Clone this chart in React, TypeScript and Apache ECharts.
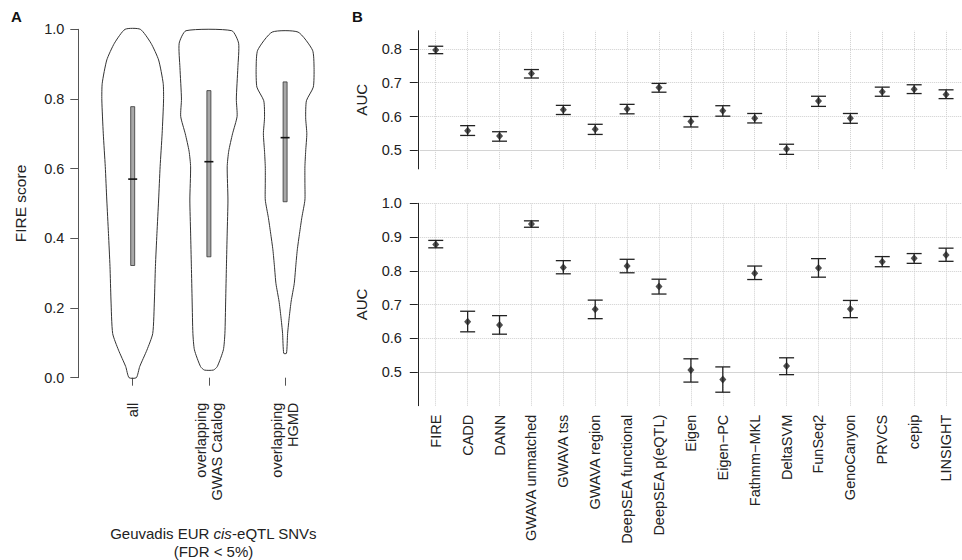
import React, { useEffect, useRef } from "react";
import * as echarts from "echarts";

// ---------- Panel A: FIRE score violins ----------
const violinGroups = ["all", "overlapping\nGWAS Catalog", "overlapping\nHGMD"];
const fireTicks = [0, 0.2, 0.4, 0.6, 0.8, 1.0];

// half-widths are expressed as a fraction of the category band
const violinAllLevels = [0, 0.032, 0.079, 0.127, 0.223, 0.319, 0.414, 0.51, 0.606, 0.7, 0.797, 0.845, 0.912, 0.96, 1.0];
const violinAllWidths = [0.048, 0.092, 0.186, 0.263, 0.285, 0.298, 0.318, 0.34, 0.36, 0.386, 0.405, 0.4, 0.34, 0.24, 0.1];

const violinGwasLevels = [0.022, 0.032, 0.08, 0.127, 0.22, 0.32, 0.415, 0.51, 0.605, 0.65, 0.7, 0.75, 0.8, 0.89, 0.96, 0.996];
const violinGwasWidths = [0.06, 0.11, 0.19, 0.21, 0.22, 0.23, 0.24, 0.25, 0.24, 0.26, 0.31, 0.37, 0.36, 0.38, 0.39, 0.3];

const violinHgmdLevels = [0.07, 0.127, 0.175, 0.22, 0.27, 0.32, 0.367, 0.415, 0.46, 0.51, 0.557, 0.605, 0.65, 0.7, 0.746, 0.795, 0.834, 0.89, 0.94, 0.992];
const violinHgmdWidths = [0.018, 0.033, 0.055, 0.08, 0.12, 0.14, 0.16, 0.19, 0.22, 0.26, 0.26, 0.26, 0.27, 0.285, 0.27, 0.28, 0.37, 0.38, 0.36, 0.17];

const boxLower = [0.322, 0.347, 0.505];
const boxUpper = [0.778, 0.824, 0.849];
const boxMedian = [0.57, 0.62, 0.689];

// ---------- Panel B: AUC per method ----------
const methods = [
  "FIRE", "CADD", "DANN", "GWAVA unmatched", "GWAVA tss", "GWAVA region",
  "DeepSEA functional", "DeepSEA p(eQTL)", "Eigen", "Eigen\u2212PC", "Fathmm\u2212MKL",
  "DeltaSVM", "FunSeq2", "GenoCanyon", "PRVCS", "cepip", "LINSIGHT",
];

const aucTop = [0.797, 0.558, 0.542, 0.727, 0.62, 0.562, 0.622, 0.686, 0.585, 0.617, 0.595, 0.504, 0.646, 0.595, 0.673, 0.681, 0.665];
const lowTop = [0.786, 0.544, 0.527, 0.714, 0.606, 0.547, 0.608, 0.672, 0.569, 0.601, 0.581, 0.488, 0.63, 0.58, 0.66, 0.668, 0.653];
const highTop = [0.808, 0.573, 0.555, 0.739, 0.633, 0.577, 0.636, 0.698, 0.6, 0.632, 0.609, 0.518, 0.66, 0.609, 0.687, 0.694, 0.679];
const ticksTop = [0.5, 0.6, 0.7, 0.8];

const aucBottom = [0.878, 0.649, 0.639, 0.939, 0.81, 0.686, 0.814, 0.753, 0.506, 0.478, 0.793, 0.518, 0.808, 0.687, 0.827, 0.837, 0.847];
const lowBottom = [0.868, 0.619, 0.612, 0.929, 0.791, 0.658, 0.794, 0.731, 0.47, 0.44, 0.774, 0.492, 0.781, 0.661, 0.812, 0.822, 0.828];
const highBottom = [0.89, 0.68, 0.667, 0.948, 0.83, 0.713, 0.834, 0.775, 0.539, 0.515, 0.814, 0.542, 0.836, 0.712, 0.842, 0.851, 0.867];
const ticksBottom = [0.5, 0.6, 0.7, 0.8, 0.9, 1.0];

const baseline = 0.5;

export default function App() {
  const ref = useRef<HTMLDivElement>(null);

  useEffect(() => {
    if (!ref.current) return;
    const chart = echarts.init(ref.current, undefined, { renderer: "svg" });
    const font = "'Liberation Sans', Arial, Helvetica, sans-serif";
    const ink = "#222";
    const gridGray = "#cfcfcf";

    const violins = [
      { levels: violinAllLevels, widths: violinAllWidths },
      { levels: violinGwasLevels, widths: violinGwasWidths },
      { levels: violinHgmdLevels, widths: violinHgmdWidths },
    ];

    const violinRender = (params: any, api: any) => {
      const i = api.value(0);
      const v = violins[i];
      const bw = api.size([1, 0])[0];
      const left = v.levels.map((y: number, k: number) => {
        const p = api.coord([i, y]);
        return [p[0] - v.widths[k] * bw, p[1]];
      });
      const right = v.levels
        .map((y: number, k: number) => {
          const p = api.coord([i, y]);
          return [p[0] + v.widths[k] * bw, p[1]];
        })
        .reverse();
      const lo = api.coord([i, boxLower[i]]);
      const hi = api.coord([i, boxUpper[i]]);
      const md = api.coord([i, boxMedian[i]]);
      return {
        type: "group",
        children: [
          {
            type: "polygon",
            shape: { points: left.concat(right), smooth: 0.2 },
            style: { fill: "none", stroke: "#333", lineWidth: 1 },
          },
          {
            type: "rect",
            shape: { x: lo[0] - 2, y: hi[1], width: 4, height: lo[1] - hi[1] },
            style: { fill: "#a8a8a8", stroke: "#333", lineWidth: 0.8 },
          },
          {
            type: "line",
            shape: { x1: md[0] - 4.5, y1: md[1], x2: md[0] + 4.5, y2: md[1] },
            style: { stroke: "#111", lineWidth: 1.6 },
          },
        ],
      };
    };

    const errRender = (params: any, api: any) => {
      const i = api.value(0);
      const lo = api.coord([i, api.value(1)]);
      const hi = api.coord([i, api.value(2)]);
      const half = 7.5;
      const st = { stroke: ink, lineWidth: 1.3 };
      return {
        type: "group",
        children: [
          { type: "line", shape: { x1: lo[0], y1: lo[1], x2: hi[0], y2: hi[1] }, style: st },
          { type: "line", shape: { x1: lo[0] - half, y1: lo[1], x2: lo[0] + half, y2: lo[1] }, style: st },
          { type: "line", shape: { x1: hi[0] - half, y1: hi[1], x2: hi[0] + half, y2: hi[1] }, style: st },
        ],
      };
    };

    const dotted = { color: gridGray, type: "dotted", width: 1 };
    const solid = { color: "#d4d4d4", type: "solid", width: 1 };
    const gridLines = (ticks: number[]) => ({
      silent: true,
      symbol: "none",
      z: 1,
      animation: false,
      label: { show: false },
      emphasis: { disabled: true },
      data: [
        ...ticks.filter((t) => t !== baseline).map((t) => ({ yAxis: t, lineStyle: dotted })),
        { yAxis: baseline, lineStyle: solid },
        ...methods.map((m) => ({ xAxis: m, lineStyle: dotted })),
      ],
    });

    const labelStyle = { color: ink, fontSize: 14.5, fontFamily: font };

    const option: any = {
      animation: false,
      textStyle: { fontFamily: font },
      grid: [
        { left: 94.6, top: 29.3, width: 228.6, height: 348.4 },
        { left: 419.8, top: 30.7, width: 549.7, height: 138.2 },
        { left: 419.8, top: 203.3, width: 549.7, height: 202.4 },
      ],
      xAxis: [
        {
          type: "category",
          gridIndex: 0,
          data: violinGroups,
          offset: 10,
          axisLine: { show: false },
          axisTick: { show: true, alignWithLabel: true, length: 8, lineStyle: { color: "#555" } },
          axisLabel: { ...labelStyle, interval: 0, rotate: 90, margin: 15, lineHeight: 16 },
          splitLine: { show: false },
        },
        {
          type: "category",
          gridIndex: 1,
          data: methods,
          axisLine: { show: false },
          axisTick: { show: false },
          axisLabel: { show: false },
          splitLine: { show: false },
        },
        {
          type: "category",
          gridIndex: 2,
          data: methods,
          axisLine: { show: false },
          axisTick: { show: false },
          axisLabel: { ...labelStyle, interval: 0, rotate: 90, margin: 9 },
          splitLine: { show: false },
        },
      ],
      yAxis: [
        {
          type: "value",
          gridIndex: 0,
          min: 0,
          max: 1,
          interval: 0.2,
          offset: 16.3,
          name: "FIRE score",
          nameLocation: "middle",
          nameGap: 50,
          nameTextStyle: { color: ink, fontSize: 15.5, fontFamily: font },
          axisLine: { show: true, lineStyle: { color: "#555", width: 1 } },
          axisTick: { show: true, length: 8, lineStyle: { color: "#555" } },
          axisLabel: {
            ...labelStyle,
            margin: 14,
            customValues: fireTicks,
            formatter: (v: number) => v.toFixed(1),
          },
          splitLine: { show: false },
        },
        {
          type: "value",
          gridIndex: 1,
          min: 0.445,
          max: 0.854,
          offset: 2,
          name: "AUC",
          nameLocation: "middle",
          nameGap: 49,
          nameTextStyle: { color: ink, fontSize: 15, fontFamily: font },
          axisLine: { show: true, lineStyle: { color: ink, width: 1 } },
          axisTick: { show: true, length: 8, customValues: ticksTop, lineStyle: { color: ink } },
          axisLabel: { ...labelStyle, margin: 16, customValues: ticksTop, formatter: (v: number) => v.toFixed(1) },
          splitLine: { show: false },
        },
        {
          type: "value",
          gridIndex: 2,
          min: 0.4,
          max: 1.0,
          offset: 2,
          name: "AUC",
          nameLocation: "middle",
          nameGap: 49,
          nameTextStyle: { color: ink, fontSize: 15, fontFamily: font },
          axisLine: { show: true, lineStyle: { color: ink, width: 1 } },
          axisTick: { show: true, length: 8, customValues: ticksBottom, lineStyle: { color: ink } },
          axisLabel: { ...labelStyle, margin: 16, customValues: ticksBottom, formatter: (v: number) => v.toFixed(1) },
          splitLine: { show: false },
        },
      ],
      series: [
        {
          type: "custom",
          name: "violins",
          xAxisIndex: 0,
          yAxisIndex: 0,
          renderItem: violinRender,
          encode: { x: 0, y: 1 },
          data: boxMedian.map((m, i) => [i, m]),
          silent: true,
        },
        {
          type: "custom",
          name: "ci top",
          xAxisIndex: 1,
          yAxisIndex: 1,
          renderItem: errRender,
          encode: { x: 0, y: [1, 2] },
          data: methods.map((_, i) => [i, lowTop[i], highTop[i]]),
          silent: true,
          z: 3,
        },
        {
          type: "scatter",
          name: "AUC top",
          xAxisIndex: 1,
          yAxisIndex: 1,
          symbol: "diamond",
          symbolSize: [7, 8],
          itemStyle: { color: ink },
          data: aucTop.map((v, i) => [i, v]),
          silent: true,
          z: 4,
          markLine: gridLines(ticksTop),
        },
        {
          type: "custom",
          name: "ci bottom",
          xAxisIndex: 2,
          yAxisIndex: 2,
          renderItem: errRender,
          encode: { x: 0, y: [1, 2] },
          data: methods.map((_, i) => [i, lowBottom[i], highBottom[i]]),
          silent: true,
          z: 3,
        },
        {
          type: "scatter",
          name: "AUC bottom",
          xAxisIndex: 2,
          yAxisIndex: 2,
          symbol: "diamond",
          symbolSize: [7, 8],
          itemStyle: { color: ink },
          data: aucBottom.map((v, i) => [i, v]),
          silent: true,
          z: 4,
          markLine: gridLines(ticksBottom),
        },
      ],
      graphic: [
        {
          type: "text",
          left: 11,
          top: 9,
          style: { text: "A", fontSize: 15, fontWeight: "bold", fill: "#111", fontFamily: font },
        },
        {
          type: "text",
          left: 352,
          top: 9,
          style: { text: "B", fontSize: 15, fontWeight: "bold", fill: "#111", fontFamily: font },
        },
        {
          type: "text",
          x: 213.5,
          y: 533.5,
          style: {
            text: "{n|Geuvadis EUR }{i|cis}{n|-eQTL SNVs}",
            align: "center",
            verticalAlign: "middle",
            fill: ink,
            fontFamily: font,
            fontSize: 15,
            rich: {
              n: { fontSize: 15, fontFamily: font, fill: ink },
              i: { fontSize: 15, fontFamily: font, fontStyle: "italic", fill: ink },
            },
          },
        },
        {
          type: "text",
          x: 213.5,
          y: 551.5,
          style: {
            text: "(FDR < 5%)",
            align: "center",
            verticalAlign: "middle",
            fill: ink,
            fontFamily: font,
            fontSize: 15,
          },
        },
      ],
    };

    chart.setOption(option);
    return () => chart.dispose();
  }, []);

  return (
    <div style={{ position: "absolute", left: 0, top: 0, width: 962, height: 560, background: "#fff" }}>
      <div ref={ref} style={{ width: 962, height: 560 }} />
    </div>
  );
}
